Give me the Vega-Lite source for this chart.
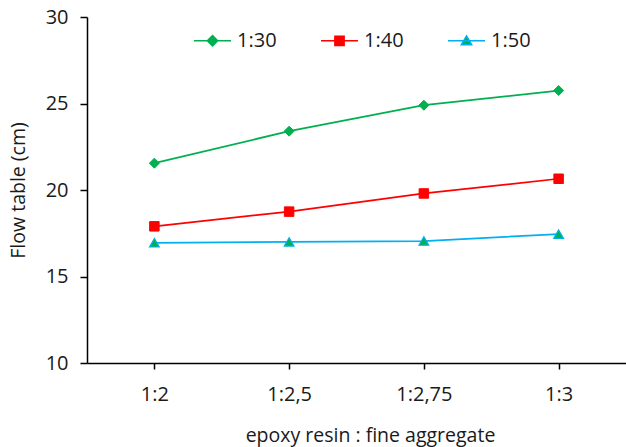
{
  "$schema": "https://vega.github.io/schema/vega-lite/v6.json",
  "width": 539,
  "height": 346,
  "autosize": {"type": "none"},
  "padding": {"left": 87, "top": 17, "right": 0, "bottom": 84},
  "background": "white",
  "config": {
    "font": "Open Sans",
    "view": {"stroke": null},
    "axis": {"grid": false, "domainColor": "#000000", "tickColor": "#000000", "domainWidth": 1.5, "tickWidth": 1.5, "labelColor": "#1a1a1a", "titleColor": "#1a1a1a", "labelFontSize": 20, "titleFontSize": 19.5, "titleFontWeight": "normal"}
  },
  "data": {
    "values": [
      {"ratio": "1:2", "series": "1:30", "flow": 21.55},
      {"ratio": "1:2,5", "series": "1:30", "flow": 23.4},
      {"ratio": "1:2,75", "series": "1:30", "flow": 24.9},
      {"ratio": "1:3", "series": "1:30", "flow": 25.75},
      {"ratio": "1:2", "series": "1:40", "flow": 17.9},
      {"ratio": "1:2,5", "series": "1:40", "flow": 18.75},
      {"ratio": "1:2,75", "series": "1:40", "flow": 19.8},
      {"ratio": "1:3", "series": "1:40", "flow": 20.65},
      {"ratio": "1:2", "series": "1:50", "flow": 16.95},
      {"ratio": "1:2,5", "series": "1:50", "flow": 17.0},
      {"ratio": "1:2,75", "series": "1:50", "flow": 17.05},
      {"ratio": "1:3", "series": "1:50", "flow": 17.45}
    ]
  },
  "encoding": {
    "x": {
      "field": "ratio", "type": "ordinal", "sort": ["1:2", "1:2,5", "1:2,75", "1:3"],
      "scale": {"type": "point", "padding": 0.5},
      "axis": {"labelAngle": 0, "tickSize": 6, "labelPadding": 15, "title": "epoxy resin : fine aggregate", "titleX": 283, "titleY": 78, "titleBaseline": "alphabetic", "titleAlign": "center", "titleAnchor": null}
    },
    "y": {
      "field": "flow", "type": "quantitative",
      "scale": {"domain": [10, 30], "nice": false, "zero": false},
      "axis": {"values": [10, 15, 20, 25, 30], "tickSize": 7, "labelPadding": 12, "title": "Flow table (cm)", "titleX": -63, "titleY": 173, "titleAngle": -90, "titleBaseline": "alphabetic", "titleAlign": "center"}
    }
  },
  "layer": [
    {
      "mark": {"type": "line", "strokeWidth": 1.75},
      "encoding": {
        "color": {
          "field": "series", "type": "nominal",
          "scale": {"domain": ["1:30", "1:40", "1:50"], "range": ["#00B050", "#FF0000", "#00B0F0"]},
          "legend": {
            "title": null, "orient": "none", "direction": "horizontal", "legendX": 106, "legendY": 4,
            "padding": 0, "symbolSize": 1369, "symbolStrokeWidth": 1.5, "labelFontSize": 20, "labelColor": "#1a1a1a",
            "labelOffset": 5, "columnPadding": 41,
            "encode": {
              "symbols": {
                "update": {
                  "shape": [
                    {"test": "datum.value === '1:30'", "value": "M-1,0H1M0,-0.28L0.28,0L0,0.28L-0.28,0Z"},
                    {"test": "datum.value === '1:40'", "value": "M-1,0H1M-0.25,-0.25H0.25V0.25H-0.25Z"},
                    {"value": "M-1,0H1M0,-0.26L0.28,0.21H-0.28Z"}
                  ],
                  "fill": [
                    {"test": "datum.value === '1:40'", "value": "#FF0000"},
                    {"value": "#00B050"}
                  ],
                  "fillOpacity": {"value": 1},
                  "opacity": {"value": 1}
                }
              }
            }
          }
        }
      }
    },
    {
      "transform": [{"filter": "datum.series === '1:30'"}],
      "mark": {"type": "point", "shape": "diamond", "filled": true, "size": 100, "opacity": 1, "fill": "#00B050", "stroke": "#00B050", "strokeWidth": 1}
    },
    {
      "transform": [{"filter": "datum.series === '1:40'"}],
      "mark": {"type": "point", "shape": "square", "filled": true, "size": 90, "opacity": 1, "fill": "#FF0000", "stroke": "#FF0000", "strokeWidth": 1}
    },
    {
      "transform": [{"filter": "datum.series === '1:50'"}],
      "mark": {"type": "point", "shape": "triangle-up", "filled": true, "size": 95, "opacity": 1, "fill": "#00B050", "stroke": "#00B0F0", "strokeWidth": 1.2}
    }
  ]
}
